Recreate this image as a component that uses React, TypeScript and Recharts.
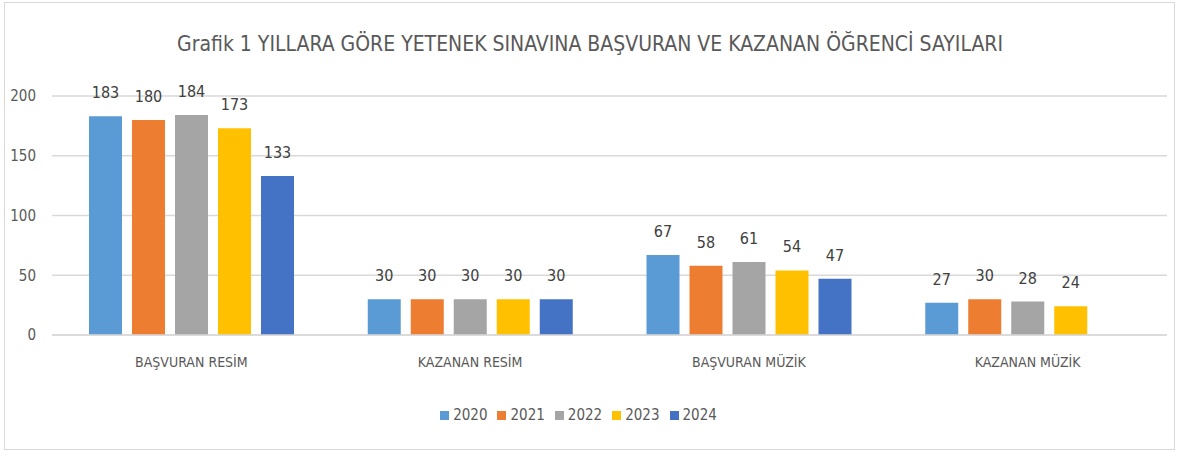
import React from "react";
import { BarChart, Bar, XAxis, YAxis, CartesianGrid, Legend, LabelList } from "recharts";

const categories = ["BAŞVURAN RESİM", "KAZANAN RESİM", "BAŞVURAN MÜZİK", "KAZANAN MÜZİK"];
const years = ["2020", "2021", "2022", "2023", "2024"];
const y2020 = [183, 30, 67, 27];
const y2021 = [180, 30, 58, 30];
const y2022 = [184, 30, 61, 28];
const y2023 = [173, 30, 54, 24];
const y2024 = [133, 30, 47, null];
const yTicks = [0, 50, 100, 150, 200];

const COLORS = ["#5B9BD5", "#ED7D31", "#A5A5A5", "#FFC000", "#4472C4"];
const FONT = "'Liberation Sans Narrow', 'DejaVu Sans Condensed', 'Roboto Condensed', sans-serif";

const series = [y2020, y2021, y2022, y2023, y2024];
const data = categories.map((name, i) => {
  const row: any = { name };
  years.forEach((yr, k) => {
    row[yr] = series[k][i];
  });
  return row;
});

const App = () => {
  return (
    <div
      style={{
        position: "absolute",
        left: 0,
        top: 0,
        width: 1180,
        height: 452,
        background: "#fff",
        fontFamily: FONT,
      }}
    >
      <div
        style={{
          position: "absolute",
          left: 4,
          top: 2,
          width: 1169,
          height: 446,
          border: "1px solid #d9d9d9",
        }}
      />
      <div
        style={{
          position: "absolute",
          top: 32,
          left: 0,
          width: 1180,
          textAlign: "center",
          fontSize: 21,
          color: "#595959",
        }}
      >
        Grafik 1 YILLARA GÖRE YETENEK SINAVINA BAŞVURAN VE KAZANAN ÖĞRENCİ SAYILARI
      </div>
      <BarChart
        width={1180}
        height={452}
        data={data}
        margin={{ top: 96, right: 13, bottom: 69, left: 0 }}
        barCategoryGap={37}
        barGap={10}
        style={{ position: "absolute", left: 0, top: 0 }}
      >
        <CartesianGrid vertical={false} stroke="#d9d9d9" strokeWidth={1.5} />
        <XAxis
          dataKey="name"
          axisLine={{ stroke: "#d9d9d9", strokeWidth: 1.5 }}
          tickLine={false}
          tick={{ fill: "#595959", fontSize: 14, fontFamily: FONT }}
          tickMargin={16}
        />
        <YAxis
          domain={[0, 200]}
          ticks={yTicks}
          axisLine={false}
          tickLine={false}
          width={52}
          tick={{ fill: "#595959", fontSize: 15, fontFamily: FONT }}
          tickMargin={10}
        />
        <Legend
          verticalAlign="bottom"
          iconType="square"
          iconSize={9}
          wrapperStyle={{ bottom: 28, fontSize: 15, fontFamily: FONT }}
          formatter={(v: string) => <span style={{ color: "#595959" }}>{v}</span>}
        />
        {years.map((yr, k) => (
          <Bar key={yr} dataKey={yr} fill={COLORS[k]} isAnimationActive={false}>
            <LabelList
              dataKey={yr}
              position="top"
              offset={18}
              style={{ fill: "#404040", fontSize: 16, fontFamily: FONT }}
            />
          </Bar>
        ))}
      </BarChart>
    </div>
  );
};

export default App;
